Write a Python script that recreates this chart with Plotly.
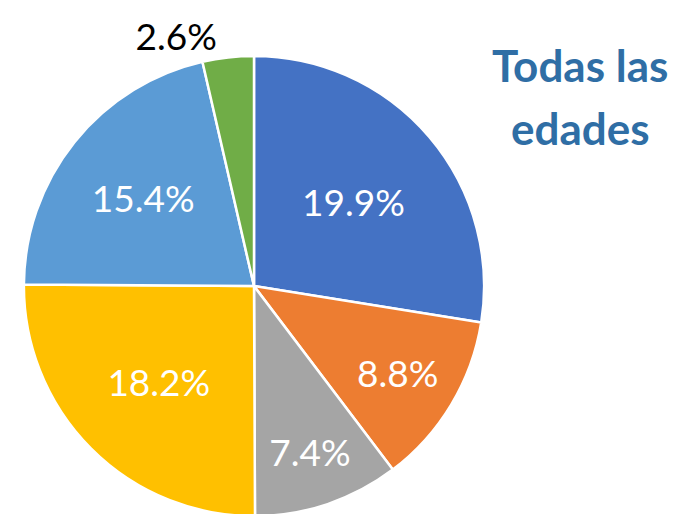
import plotly.graph_objects as go

values = [19.9, 8.8, 7.4, 18.2, 15.4, 2.6]
labels = ["A", "B", "C", "D", "E", "F"]
text_labels = ["19.9%", "8.8%", "7.4%", "18.2%", "15.4%", "2.6%"]
colors = ["#4472C4", "#ED7D31", "#A5A5A5", "#FFC000", "#5B9BD5", "#70AD47"]
text_pos = ["inside", "inside", "inside", "inside", "inside", "outside"]
title_lines = ["Todas las", "edades"]

fig = go.Figure(go.Pie(
    values=values,
    labels=labels,
    text=text_labels,
    textinfo="text",
    textposition=text_pos,
    insidetextorientation="horizontal",
    sort=False,
    direction="clockwise",
    rotation=0,
    marker=dict(colors=colors, line=dict(color="white", width=2.5)),
    insidetextfont=dict(family="Lato", size=37, color="white"),
    outsidetextfont=dict(family="Lato", size=37, color="black"),
    domain=dict(x=[10/694, 482/694], y=[1 - 508/514, 1 - 33/514]),
    showlegend=False,
    hoverinfo="skip",
))

for i, (line, ypx) in enumerate(zip(title_lines, [42, 107])):
    fig.add_annotation(
        text="<b>" + line + "</b>",
        x=572/694, y=1 - ypx/514, xref="paper", yref="paper",
        xanchor="center", yanchor="middle",
        showarrow=False, align="center",
        font=dict(family="Lato", size=44, color="#2F6EA5"),
    )

fig.update_layout(
    width=694, height=514,
    margin=dict(l=0, r=0, t=0, b=0),
    paper_bgcolor="white", plot_bgcolor="white",
)

fig.write_html("out.html")
